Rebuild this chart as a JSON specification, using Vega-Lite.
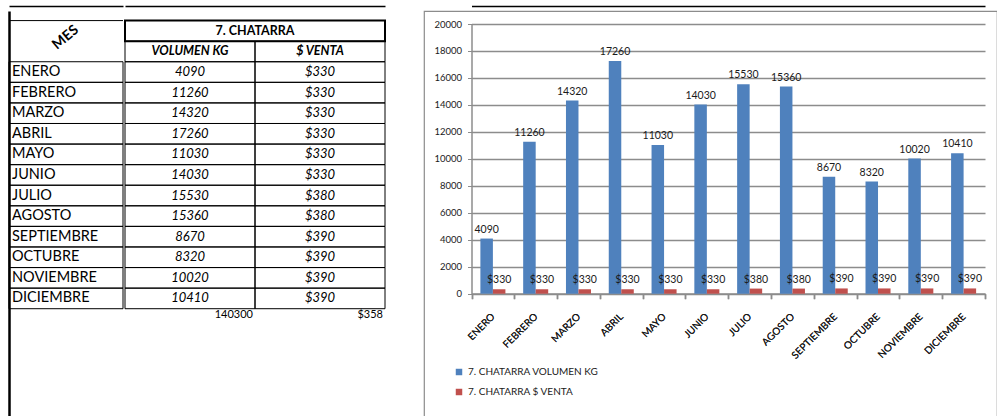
{
  "$schema": "https://vega.github.io/schema/vega-lite/v6.json",
  "background": "white",
  "padding": {"left": 8, "top": 5, "right": 0, "bottom": 0},
  "config": {"view": {"stroke": null}, "font": "Lato"},
  "datasets": {
    "chatarra": [
      {"mes": "ENERO", "volumen_kg": 4090, "venta": 330},
      {"mes": "FEBRERO", "volumen_kg": 11260, "venta": 330},
      {"mes": "MARZO", "volumen_kg": 14320, "venta": 330},
      {"mes": "ABRIL", "volumen_kg": 17260, "venta": 330},
      {"mes": "MAYO", "volumen_kg": 11030, "venta": 330},
      {"mes": "JUNIO", "volumen_kg": 14030, "venta": 330},
      {"mes": "JULIO", "volumen_kg": 15530, "venta": 380},
      {"mes": "AGOSTO", "volumen_kg": 15360, "venta": 380},
      {"mes": "SEPTIEMBRE", "volumen_kg": 8670, "venta": 390},
      {"mes": "OCTUBRE", "volumen_kg": 8320, "venta": 390},
      {"mes": "NOVIEMBRE", "volumen_kg": 10020, "venta": 390},
      {"mes": "DICIEMBRE", "volumen_kg": 10410, "venta": 390}
    ],
    "columnas": [
      {"col": "volumen_kg", "titulo": "VOLUMEN KG"},
      {"col": "venta", "titulo": "$ VENTA"}
    ]
  },
  "spacing": 33,
  "hconcat": [
    {
      "spacing": 0,
      "hconcat": [
        {
          "width": 114,
          "height": 406,
          "encoding": {
            "x": {"datum": "MES", "type": "nominal", "scale": {"domain": ["MES"], "paddingInner": 0, "paddingOuter": 0}, "axis": {"orient": "top", "offset": 5, "labels": false, "ticks": false, "domain": true, "domainColor": "#000", "domainWidth": 1.5, "grid": false, "title": null}},
            "y": {"field": "mes", "type": "nominal", "scale": {"domain": ["hdr1","hdr2","ENERO","FEBRERO","MARZO","ABRIL","MAYO","JUNIO","JULIO","AGOSTO","SEPTIEMBRE","OCTUBRE","NOVIEMBRE","DICIEMBRE","TOTAL","pad1","pad2","pad3","pad4"], "paddingInner": 0, "paddingOuter": 0.364, "align": 0.64, "round": false}, "axis": {"orient": "left", "labels": false, "ticks": false, "domain": true, "domainColor": "#000", "domainWidth": 2.5, "grid": false, "title": null}}
          },
          "layer": [
            {
              "data": {"name": "chatarra"},
              "mark": {"type": "rect", "fill": "transparent", "stroke": "#000", "strokeWidth": 1}
            },
            {
              "data": {"values": [{"t": "MES"}]},
              "mark": {"type": "rule", "color": "#000", "strokeWidth": 1},
              "encoding": {"x": null, "y": {"datum": "hdr1", "type": "nominal", "bandPosition": 0}}
            },
            {
              "data": {"name": "chatarra"},
              "mark": {"type": "text", "align": "left", "dx": 3, "fontSize": 14.5, "font": "Lato", "color": "#000"},
              "encoding": {
                "x": {"datum": "MES", "type": "nominal", "bandPosition": 0},
                "text": {"field": "mes", "type": "nominal"}
              }
            },
            {
              "data": {"values": [{"t": "MES"}]},
              "mark": {"type": "text", "angle": 320, "fontWeight": "bold", "fontSize": 14, "dy": -3, "dx": 2, "font": "Lato", "color": "#000"},
              "encoding": {
                "x": null,
                "y": {"datum": "hdr2", "type": "nominal", "bandPosition": 0},
                "text": {"field": "t", "type": "nominal"}
              }
            }
          ]
        },
        {
          "width": 260,
          "height": 406,
          "encoding": {
            "x": {"field": "col", "type": "nominal", "scale": {"domain": ["volumen_kg", "venta"], "paddingInner": 0, "paddingOuter": 0}, "axis": {"orient": "top", "offset": 5, "labels": false, "ticks": false, "domain": true, "domainColor": "#000", "domainWidth": 1.5, "grid": false, "title": null}},
            "y": {"field": "mes", "type": "nominal", "scale": {"domain": ["hdr1","hdr2","ENERO","FEBRERO","MARZO","ABRIL","MAYO","JUNIO","JULIO","AGOSTO","SEPTIEMBRE","OCTUBRE","NOVIEMBRE","DICIEMBRE","TOTAL","pad1","pad2","pad3","pad4"], "paddingInner": 0, "paddingOuter": 0.364, "align": 0.64, "round": false}, "axis": {"orient": "left", "labels": false, "ticks": false, "domain": false, "grid": false, "title": null}}
          },
          "layer": [
            {
              "data": {"values": [{"t": "7. CHATARRA"}]},
              "mark": {"type": "rect", "fill": "transparent", "stroke": "#000", "strokeWidth": 2},
              "encoding": {"x": null, "y": {"datum": "hdr1", "type": "nominal"}}
            },
            {
              "data": {"values": [{"t": "7. CHATARRA"}]},
              "mark": {"type": "text", "fontWeight": "bold", "fontSize": 12.5, "font": "Lato", "color": "#000"},
              "encoding": {"x": null, "y": {"datum": "hdr1", "type": "nominal"}, "text": {"field": "t", "type": "nominal"}}
            },
            {
              "data": {"name": "columnas"},
              "mark": {"type": "rect", "fill": "transparent", "stroke": "#000", "strokeWidth": 1},
              "encoding": {"y": {"datum": "hdr2", "type": "nominal"}}
            },
            {
              "data": {"name": "columnas"},
              "mark": {"type": "text", "fontWeight": "bold", "fontStyle": "italic", "fontSize": 12.5, "font": "Lato", "color": "#000"},
              "encoding": {"y": {"datum": "hdr2", "type": "nominal"}, "text": {"field": "titulo", "type": "nominal"}}
            },
            {
              "data": {"name": "chatarra"},
              "transform": [{"fold": ["volumen_kg", "venta"], "as": ["col", "valor"]}],
              "mark": {"type": "rect", "fill": "transparent", "stroke": "#000", "strokeWidth": 1}
            },
            {
              "data": {"name": "chatarra"},
              "mark": {"type": "text", "fontStyle": "italic", "fontSize": 13, "font": "Lato", "color": "#000"},
              "encoding": {
                "x": {"datum": "volumen_kg", "type": "nominal"},
                "text": {"field": "volumen_kg", "type": "quantitative", "format": "d"}
              }
            },
            {
              "data": {"name": "chatarra"},
              "mark": {"type": "text", "fontStyle": "italic", "fontSize": 13, "font": "Lato", "color": "#000"},
              "encoding": {
                "x": {"datum": "venta", "type": "nominal"},
                "text": {"field": "venta", "type": "quantitative", "format": "$d"}
              }
            },
            {
              "data": {"name": "chatarra"},
              "transform": [{"aggregate": [{"op": "sum", "field": "volumen_kg", "as": "total_kg"}, {"op": "mean", "field": "venta", "as": "venta_media"}]}],
              "mark": {"type": "text", "align": "right", "dx": -2, "dy": -4, "fontSize": 11, "font": "Lato", "color": "#000"},
              "encoding": {
                "x": {"datum": "volumen_kg", "type": "nominal", "bandPosition": 1},
                "y": {"datum": "TOTAL", "type": "nominal"},
                "text": {"field": "total_kg", "type": "quantitative", "format": "d"}
              }
            },
            {
              "data": {"name": "chatarra"},
              "transform": [{"aggregate": [{"op": "sum", "field": "volumen_kg", "as": "total_kg"}, {"op": "mean", "field": "venta", "as": "venta_media"}]}],
              "mark": {"type": "text", "align": "right", "dx": -2, "dy": -4, "fontSize": 11, "font": "Lato", "color": "#000"},
              "encoding": {
                "x": {"datum": "venta", "type": "nominal", "bandPosition": 1},
                "y": {"datum": "TOTAL", "type": "nominal"},
                "text": {"field": "venta_media", "type": "quantitative", "format": "$.0f"}
              }
            }
          ]
        }
      ]
    },
    {
      "width": 573,
      "height": 406,
      "view": {"stroke": "#8c8c8c", "strokeWidth": 1.2},
      "data": {"name": "chatarra"},
      "transform": [{"fold": ["volumen_kg", "venta"], "as": ["serie", "valor"]}],
      "encoding": {
        "x": {
          "field": "mes", "type": "nominal",
          "scale": {"domain": ["ENERO","FEBRERO","MARZO","ABRIL","MAYO","JUNIO","JULIO","AGOSTO","SEPTIEMBRE","OCTUBRE","NOVIEMBRE","DICIEMBRE"], "range": [47.5, 561], "paddingInner": 0, "paddingOuter": 0},
          "axis": {"title": null, "orient": "bottom", "offset": -123.3, "tickBand": "extent", "domainColor": "#8c8c8c", "domainWidth": 1.5, "tickColor": "#8c8c8c", "tickSize": 5, "tickWidth": 1.5, "labelAngle": -45, "labelAlign": "right", "labelBaseline": "middle", "labelPadding": 16, "labelFontSize": 10, "labelFont": "Lato", "labelColor": "#1a1a1a", "grid": false}
        },
        "xOffset": {"field": "serie", "type": "nominal", "scale": {"domain": ["volumen_kg", "venta"], "paddingInner": 0, "paddingOuter": 0.71}},
        "y": {
          "field": "valor", "type": "quantitative",
          "scale": {"domain": [0, 20000], "range": [282.7, 13], "nice": false},
          "axis": {"title": null, "offset": -47.5, "format": "d", "values": [0,2000,4000,6000,8000,10000,12000,14000,16000,18000,20000], "grid": true, "gridColor": "#8c8c8c", "gridWidth": 1.3, "domainColor": "#8c8c8c", "domainWidth": 1.5, "tickColor": "#8c8c8c", "tickSize": 4, "labelPadding": 6, "labelFontSize": 9.5, "labelFont": "Lato", "labelColor": "#1a1a1a"}
        }
      },
      "layer": [
        {
          "mark": {"type": "bar"},
          "encoding": {
            "color": {
              "field": "serie", "type": "nominal",
              "scale": {"domain": ["volumen_kg", "venta"], "range": ["#4F81BD", "#C0504D"]},
              "legend": {"orient": "none", "legendX": 445, "legendY": 356, "title": null, "symbolType": "square", "symbolSize": 42, "symbolStrokeWidth": 0, "labelFontSize": 10, "labelFont": "Lato", "labelColor": "#1a1a1a", "rowPadding": 10, "labelOffset": 4, "padding": 0, "labelExpr": "datum.value == 'volumen_kg' ? '7. CHATARRA VOLUMEN KG' : '7. CHATARRA $ VENTA'"}
            }
          }
        },
        {
          "transform": [{"filter": "datum.serie === 'volumen_kg'"}],
          "mark": {"type": "text", "baseline": "alphabetic", "dy": -6, "fontSize": 10.5, "font": "Lato", "color": "#1a1a1a"},
          "encoding": {
            "x": {
              "field": "mes", "type": "nominal",
              "scale": {"domain": ["ENERO","FEBRERO","MARZO","ABRIL","MAYO","JUNIO","JULIO","AGOSTO","SEPTIEMBRE","OCTUBRE","NOVIEMBRE","DICIEMBRE"], "range": [47.5, 561], "paddingInner": 0, "paddingOuter": 0},
              "axis": {"orient": "top", "offset": 5, "title": null, "labels": false, "ticks": false, "grid": false, "domain": true, "domainColor": "#000", "domainWidth": 1.5}
            },
            "text": {"field": "valor", "type": "quantitative", "format": "d"}
          }
        },
        {
          "transform": [{"filter": "datum.serie === 'venta'"}],
          "mark": {"type": "text", "baseline": "alphabetic", "dy": -6, "fontSize": 10.5, "font": "Lato", "color": "#1a1a1a"},
          "encoding": {"text": {"field": "valor", "type": "quantitative", "format": "$d"}}
        }
      ]
    }
  ]
}
